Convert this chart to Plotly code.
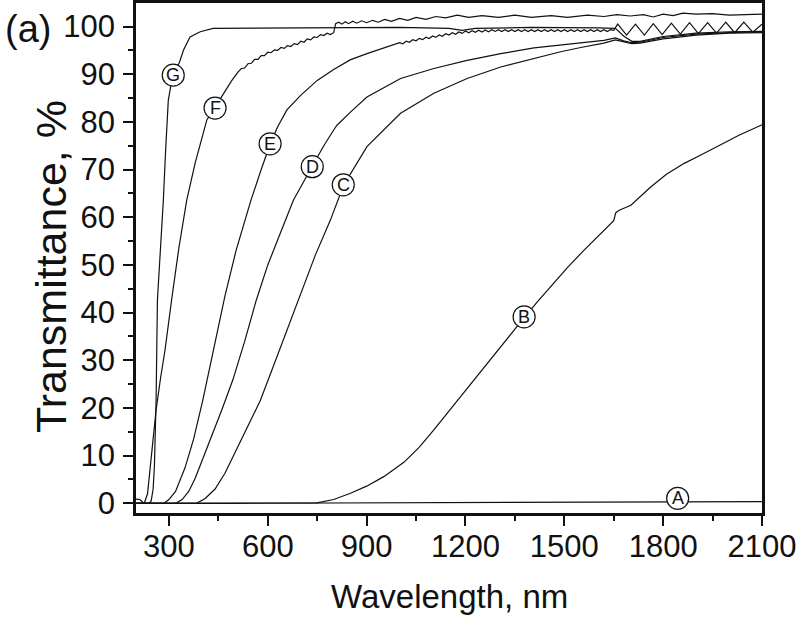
import plotly.graph_objects as go

# ---- data (wavelength nm, transmittance %) ----
A_x = [200, 212, 222, 240, 500, 800, 1000, 1300, 1500, 1700, 1900, 2100]
A_y = [0.9, 0.8, 0.1, 0.0, 0.0, 0.05, 0.1, 0.1, 0.15, 0.2, 0.25, 0.35]

B_x = [200, 700, 749, 800, 851, 900, 952, 1013, 1060, 1104, 1140, 1183, 1234, 1274, 1330,
       1380, 1420, 1459, 1510, 1560, 1600, 1641, 1650, 1656, 1665, 1702, 1730, 1763, 1810,
       1864, 1910, 1965, 2030, 2097, 2100]
B_y = [0.0, 0.0, 0.1, 0.8, 2.1, 3.6, 5.6, 8.6, 11.8, 15.4, 18.5, 22.2, 26.6, 30.2, 35.0,
       39.1, 42.4, 45.4, 49.5, 53.1, 55.8, 58.7, 59.3, 60.9, 61.4, 62.5, 64.3, 66.4, 69.0,
       71.3, 72.9, 74.8, 77.2, 79.3, 79.4]

C_x = [200, 384, 410, 440, 470, 500, 540, 577, 610, 650, 693, 744, 790, 830, 901, 1003, 1104,
       1205, 1307, 1408, 1489, 1550, 1620, 1655, 1680, 1705, 1730, 1800, 1900, 2000, 2100]
C_y = [0.0, 0.0, 1.0, 3.0, 6.3, 10.5, 16.0, 21.5, 27.5, 34.8, 42.6, 52.0, 59.4, 66.7, 74.8, 81.8, 86.0,
       89.1, 91.5, 93.3, 94.7, 95.6, 96.5, 97.2, 96.8, 96.4, 96.5, 97.4, 98.2, 98.6, 98.7]

D_x = [200, 320, 340, 360, 380, 400, 430, 460, 494, 530, 565, 600, 640, 678, 734, 770,
       800, 810, 850, 901, 1003, 1104, 1205, 1307, 1408, 1489, 1550, 1620, 1655, 1680, 1705,
       1730, 1800, 1900, 2000, 2100]
D_y = [0.0, 0.0, 0.8, 2.5, 5.3, 8.8, 14.0, 19.5, 25.9, 34.0, 42.6, 50.0, 57.0, 63.6, 70.6, 75.0,
       78.3, 79.3, 82.0, 85.2, 89.1, 91.2, 92.9, 94.3, 95.5, 96.1, 96.6, 97.1, 97.6, 97.0, 96.6,
       96.7, 97.7, 98.4, 98.7, 98.9]

E_x = [200, 285, 300, 320, 349, 375, 403, 440, 470, 504, 549, 580, 607, 630, 658, 699, 750,
       800, 850, 901, 950,
       1000, 1010, 1020, 1030, 1040, 1050, 1060, 1070, 1080, 1090, 1100, 1110, 1120, 1130,
       1140, 1150, 1160, 1170, 1180, 1190, 1200, 1210, 1220, 1230, 1240, 1250, 1260, 1270,
       1280, 1290, 1300, 1310, 1320, 1330, 1340, 1350, 1360, 1370, 1380, 1390, 1400, 1410,
       1420, 1430, 1440, 1450, 1460, 1470, 1480, 1490, 1500, 1510, 1520, 1530, 1540, 1550,
       1560, 1570, 1580, 1590, 1600, 1610, 1620, 1630, 1640, 1650,
       1662, 1689, 1716, 1743, 1770, 1797, 1825, 1852, 1880, 1907, 1935, 1962, 1990, 2017,
       2045, 2072, 2100]
E_y = [0.0, 0.0, 0.8, 2.5, 7.5, 13.5, 21.7, 33.5, 43.5, 53.1, 63.6, 70.0, 75.3, 79.0, 82.5, 85.5, 88.7,
       91.0, 93.0, 94.3, 95.5,
       96.60, 96.36, 96.92, 96.68, 97.24, 97.00, 97.52, 97.24, 97.76, 97.48, 98.00, 97.72, 98.24, 97.96,
       98.48, 98.20, 98.69, 98.38, 98.87, 98.56, 99.05, 98.69, 99.13, 98.77, 99.21, 98.85, 99.28, 98.91,
       99.34, 98.97, 99.35, 98.95, 99.35, 98.95, 99.35, 98.95, 99.35, 98.95, 99.35, 98.95, 99.35, 98.95,
       99.35, 98.95, 99.35, 98.95, 99.35, 98.95, 99.35, 98.95, 99.35, 98.95, 99.35, 98.95, 99.35, 98.95,
       99.35, 98.95, 99.35, 98.95, 99.35, 98.95, 99.35, 98.95, 99.35, 99.20,
       100.5, 98.2, 100.5, 98.2, 100.6, 98.3, 100.7, 98.4, 100.8, 98.5, 100.8, 98.6, 100.9, 98.7,
       100.9, 98.8, 100.5]

F_x = [200, 225, 235, 248, 261, 275, 288, 308, 330, 354, 380, 404, 415, 440, 465, 490, 510,
       520, 530, 540, 550, 560, 570, 580, 590, 600, 610, 620, 630, 640, 650, 660, 670, 680,
       690, 700, 710, 720, 730, 740, 750, 760, 770, 780, 790, 800,
       806, 815, 825, 835, 845, 858, 870, 885, 900, 918, 935, 955, 975, 1000, 1025, 1050, 1080,
       1110, 1140, 1175, 1210, 1250, 1300, 1350, 1400, 1460, 1510, 1570, 1620, 1660, 1700,
       1740, 1770, 1800, 1830, 1860, 1900, 1950, 2000, 2050, 2100]
F_y = [0.0, 0.0, 2.0, 11.2, 19.6, 26.5, 32.1, 42.6, 53.5, 63.6, 71.5, 77.6, 80.4, 83.1, 86.0, 88.6, 90.5,
       91.2, 91.3, 92.2, 92.3, 93.1, 93.1, 93.9, 93.9, 94.6, 94.5, 95.1, 95.0, 95.6, 95.4, 96.0, 95.8, 96.4,
       96.2, 96.9, 96.7, 97.4, 97.2, 97.8, 97.7, 98.3, 98.1, 98.6, 98.3, 98.7,
       100.6, 100.9, 100.5, 101.0, 100.6, 101.1, 100.7, 101.2, 100.8, 101.3, 100.9, 101.5, 101.1, 101.7, 101.3, 101.9, 101.5,
       102.1, 101.8, 102.4, 101.9, 102.3, 101.9, 102.4, 101.9, 102.3, 101.9, 102.4, 102.1, 102.5, 102.2,
       102.5, 102.0, 102.6, 102.3, 102.8, 102.6, 102.7, 102.4, 102.5, 102.6]

G_x = [200, 240, 246, 252, 256, 259, 261, 263, 265, 271, 277, 283, 290, 298, 308, 320, 332, 344,
       364, 395, 434, 600, 800, 1000, 1150, 1190, 1230, 1400, 1600, 1655, 1680, 1705, 1730,
       1800, 1900, 2000, 2100]
G_y = [0.0, 0.0, 0.5, 3.0, 8.0, 15.0, 21.7, 32.0, 42.6, 49.6, 56.0, 63.6, 74.1, 84.5, 88.5, 90.8, 92.5, 95.0,
       97.8, 98.9, 99.6, 99.7, 99.7, 99.8, 99.6, 99.2, 99.6, 99.8, 99.7, 99.6, 98.0, 96.9, 96.9,
       97.9, 98.6, 98.9, 99.0]

label_names = ["A", "B", "C", "D", "E", "F", "G"]
label_x = [1844, 1378, 829, 735, 607, 440, 313]
label_y = [1.05, 39.1, 66.8, 70.6, 75.4, 82.9, 89.8]

x_ticks = [300, 600, 900, 1200, 1500, 1800, 2100]
y_ticks = [0, 10, 20, 30, 40, 50, 60, 70, 80, 90, 100]

FONT = "Liberation Sans, Arial, Helvetica, sans-serif"
INK = "#111111"

fig = go.Figure()
for xs, ys in [(A_x, A_y), (B_x, B_y), (C_x, C_y), (D_x, D_y), (E_x, E_y), (F_x, F_y), (G_x, G_y)]:
    fig.add_trace(go.Scatter(x=xs, y=ys, mode="lines",
                             line=dict(color=INK, width=1.2), showlegend=False,
                             hoverinfo="skip"))

shapes = []
annotations = []
for name, lx, ly in zip(label_names, label_x, label_y):
    shapes.append(dict(type="circle", xref="x", yref="y", xsizemode="pixel", ysizemode="pixel",
                       xanchor=lx, yanchor=ly, x0=-11, x1=11, y0=-11, y1=11,
                       fillcolor="white", line=dict(color=INK, width=1.2), layer="above"))
    annotations.append(dict(x=lx, y=ly, xref="x", yref="y", text=name, showarrow=False,
                            font=dict(family=FONT, size=18, color=INK),
                            xanchor="center", yanchor="middle"))

# panel tag and axis titles (paper coordinates; plot area is 626 x 510 px)
annotations.append(dict(x=-133 / 626, y=(513 - 29) / 510, xref="paper", yref="paper", text="(a)",
                        showarrow=False, xanchor="left", yanchor="middle",
                        font=dict(family=FONT, size=38, color=INK)))
annotations.append(dict(x=(449 - 136) / 626, y=(513 - 596) / 510, xref="paper", yref="paper",
                        text="Wavelength, nm", showarrow=False, xanchor="center", yanchor="middle",
                        font=dict(family=FONT, size=33, color=INK)))
annotations.append(dict(x=(51 - 136) / 626, y=(513 - 267) / 510, xref="paper", yref="paper",
                        text="Transmittance, %", showarrow=False, xanchor="center", yanchor="middle",
                        textangle=-90, font=dict(family=FONT, size=43, color=INK)))

fig.update_layout(
    width=800, height=619,
    margin=dict(l=136, r=38, t=3, b=106),
    paper_bgcolor="white", plot_bgcolor="white",
    font=dict(family=FONT, color=INK),
    shapes=shapes, annotations=annotations,
    xaxis=dict(range=[200, 2100], tickvals=x_ticks, ticks="outside", ticklen=10, tickwidth=2,
               tickcolor=INK, showline=True, linecolor=INK, linewidth=2.5, mirror=True,
               showgrid=False, zeroline=False, tickfont=dict(size=31, family=FONT),
               automargin=False, ticklabelstandoff=-6,
               minor=dict(ticks="outside", ticklen=5, tickwidth=2, tickcolor=INK,
                          tick0=0, dtick=150)),
    yaxis=dict(range=[-2.03, 104.93], tickvals=y_ticks, ticks="outside", ticklen=10, tickwidth=2,
               tickcolor=INK, showline=True, linecolor=INK, linewidth=2.5, mirror=True,
               showgrid=False, zeroline=False, tickfont=dict(size=31, family=FONT),
               automargin=False, ticklabelstandoff=2,
               minor=dict(ticks="outside", ticklen=5, tickwidth=2, tickcolor=INK,
                          tick0=0, dtick=5)),
)

fig.write_html("out.html", config={"displayModeBar": False},
               post_script="document.body.style.margin='0px';document.body.style.overflow='hidden';")
